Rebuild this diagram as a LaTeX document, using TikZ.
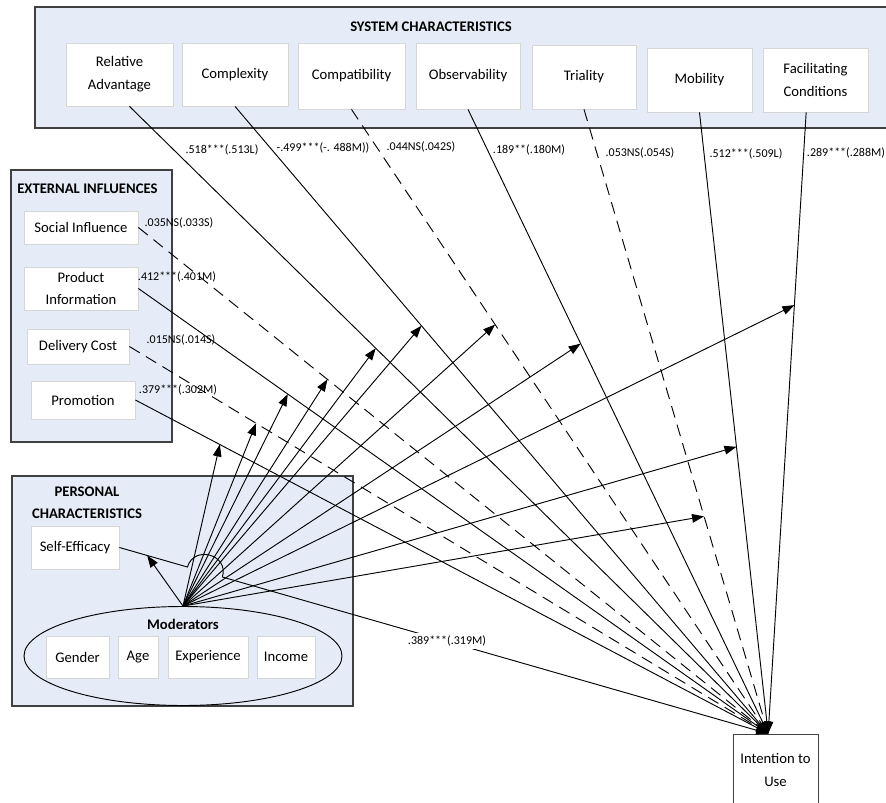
\documentclass[tikz,border=0pt]{standalone}
\usepackage{fontspec}
\setmainfont{Carlito}
\usetikzlibrary{arrows.meta,calc,shapes.geometric}
\definecolor{panel}{RGB}{229,236,247}
\definecolor{panelline}{RGB}{64,64,64}
\definecolor{wline}{RGB}{214,214,214}
\newcommand\rbox[6]{\node[#1,minimum width={(#5-#3)*0.75pt},minimum height={(#6-#4)*0.75pt}] (#2) at ({(#3+#5)/2},{(#4+#6)/2})}
\begin{document}
\begin{tikzpicture}[x=0.75pt,y=-0.75pt,
  panelbox/.style={draw=panelline,line width=1.1pt,fill=panel,inner sep=0pt},
  wbox/.style={draw=wline,line width=0.6pt,fill=white,inner sep=1pt,align=center,font=\fontsize{11}{17}\selectfont},
  ibox/.style={wbox,draw=panelline},
  ttl/.style={font=\bfseries\fontsize{11}{16.5}\selectfont,inner sep=0pt,align=center},
  coef/.style={font=\fontsize{9}{10}\selectfont,inner sep=0pt},
  ln/.style={line width=0.7pt,-{Triangle[length=9pt,width=6.5pt]}},
  dln/.style={ln,dash pattern=on 9pt off 5.5pt},
  marr/.style={line width=0.7pt,-{Triangle[length=9pt,width=6.5pt]}}]
\useasboundingbox (0,0) rectangle (886,803);
\clip (0,0) rectangle (886,803);
% panels
\rbox{panelbox}{sysp}{35}{7}{894}{128}{};
\node[ttl] (systt) at (431,27) {SYSTEM CHARACTERISTICS};
\rbox{panelbox}{extp}{11}{170}{172}{442}{};
\node[ttl,anchor=west] (exttt) at (17,189) {EXTERNAL INFLUENCES};
\rbox{panelbox}{perp}{12}{476}{353}{706}{};
\node[ttl] (pertt) at (87,503) {PERSONAL\\CHARACTERISTICS};
% system characteristics
\rbox{wbox}{ra}{66}{43}{173}{106}{Relative\\Advantage};
\rbox{wbox}{cx}{182}{43}{288}{106}{Complexity};
\rbox{wbox}{cp}{298}{43}{405}{109}{Compatibility};
\rbox{wbox}{ob}{416}{43}{520}{109}{Observability};
\rbox{wbox}{tr}{532}{45}{636}{109}{Triality};
\rbox{wbox}{mb}{647}{48}{752}{112}{Mobility};
\rbox{wbox}{fc}{763}{48}{868}{112}{Facilitating\\Conditions};
% external influences
\rbox{wbox}{si}{24}{211}{138}{244}{Social Influence};
\rbox{wbox}{pi}{24}{267}{138}{310}{Product\\Information};
\rbox{wbox}{dc}{27}{329}{129}{364}{Delivery Cost};
\rbox{wbox}{pr}{31}{381}{135}{419}{Promotion};
% personal
\rbox{wbox}{se}{31}{526}{119}{569}{Self-Efficacy};
\node[ellipse,draw,line width=0.7pt,minimum width={318*0.75pt},minimum height={99*0.75pt},inner sep=0pt] (mod) at (183,656) {};
\node[font=\bfseries\fontsize{11}{13}\selectfont,inner sep=0pt] (modt) at (183,624) {Moderators};
\rbox{wbox}{gd}{46}{636}{109}{678}{Gender};
\rbox{wbox}{ag}{118}{636}{158}{678}{Age};
\rbox{wbox}{ex}{168}{636}{248}{678}{Experience};
\rbox{wbox}{ic}{257}{636}{315}{678}{Income};
% outcome
\rbox{ibox}{intent}{733}{734}{818}{806}{Intention to\\Use};
\coordinate (T) at ([xshift=-5.5pt]intent.north);
% start points
\coordinate (sRA) at ([xshift=7.5pt]ra.south);
\coordinate (sCX) at (cx.south);
\coordinate (sCP) at (cp.south);
\coordinate (sOB) at (ob.south);
\coordinate (sTR) at (tr.south);
\coordinate (sMB) at (mb.south);
\coordinate (sFC) at ([xshift=-7pt]fc.south);
% paths to intention
\draw[ln] (sRA) -- (T);
\draw[ln] (sCX) -- (T);
\draw[dln] (sCP) -- (T);
\draw[ln] (sOB) -- (T);
\draw[dln] (sTR) -- (T);
\draw[ln] (sMB) -- (T);
\draw[ln] (sFC) -- (T);
\draw[dln] (si.east) -- (T);
\draw[ln] (pi.east) -- (T);
\draw[dln] (dc.east) -- (T);
\draw[ln] (pr.east) -- (T);
\coordinate (hA) at ($(se.east)!(188,565)!(T)$);
\coordinate (hB) at ($(se.east)!(223,575)!(T)$);
\draw[line width=0.7pt] (se.east) -- (hA) .. controls +(6.8,-22.4) and +(6.8,-22.4) .. (hB);
\draw[ln] (hB) -- (T);
% moderating arrows
\draw[marr] (mod.north) -- ($(se.east)!(147,556)!(T)$);
\draw[marr] (mod.north) -- ($(pr.east)!(218,448)!(T)$);
\draw[marr] (mod.north) -- ($(dc.east)!(255,425)!(T)$);
\draw[marr] (mod.north) -- ($(pi.east)!(285,398)!(T)$);
\draw[marr] (mod.north) -- ($(si.east)!(323,385)!(T)$);
\draw[marr] (mod.north) -- ($(sRA)!(377,347)!(T)$);
\draw[marr] (mod.north) -- ($(sCX)!(420,327)!(T)$);
\draw[marr] (mod.north) -- ($(sCP)!(493,326)!(T)$);
\draw[marr] (mod.north) -- ($(sOB)!(580,344)!(T)$);
\draw[marr] (mod.north) -- ($(sFC)!(792,305)!(T)$);
\draw[marr] (mod.north) -- ($(sMB)!(735,447)!(T)$);
\draw[marr] (mod.north) -- ($(sTR)!(702,517)!(T)$);
% coefficients
\node[coef] (c1) at (222,150) {.518***(.513L)};
\node[coef] (c2) at (323,148) {-.499***(-. 488M))};
\node[coef] (c3) at (421,147) {.044NS(.042S)};
\node[coef] (c4) at (529,150) {.189**(.180M)};
\node[coef] (c5) at (640,153) {.053NS(.054S)};
\node[coef] (c6) at (746,154) {.512***(.509L)};
\node[coef] (c7) at (846,153) {.289***(.288M)};
\node[coef] (c8) at (179,223) {.035NS(.033S)};
\node[coef] (c9) at (177,277) {.412***(.401M)};
\node[coef] (c10) at (181,340) {.015NS(.014S)};
\node[coef] (c11) at (178,390) {.379***(.302M)};
\node[coef,fill=white,inner sep=2pt] (c12) at (447,641) {.389***(.319M)};
\end{tikzpicture}
\end{document}
